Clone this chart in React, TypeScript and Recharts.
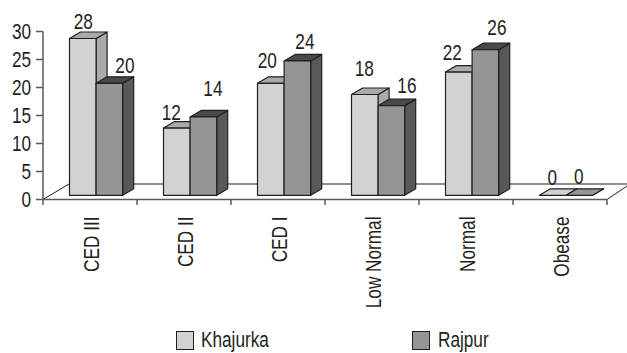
import { Bar, BarChart, Customized, LabelList, XAxis, YAxis } from 'recharts';

const categories = ['CED III', 'CED II', 'CED I', 'Low Normal', 'Normal', 'Obease'];
const khajurka = [28, 12, 20, 18, 22, 0];
const rajpur = [20, 14, 24, 16, 26, 0];
const yTicks = [0, 5, 10, 15, 20, 25, 30];
const seriesNames = ['Khajurka', 'Rajpur'];

// hand placement of the value labels, relative to the top of each bar
const khajurkaLabelNudge = [[7, -21], [1, -20], [3, -27], [6, -30], [0, -24], [6, -22]];
const rajpurLabelNudge = [[22, -22], [16, -33], [14, -24], [22, -24], [18, -26], [6, -23]];

const WIDTH = 627;
const HEIGHT = 353;
const PLOT_LEFT = 43;
const PLOT_RIGHT = 607;
const PLOT_TOP = 31.5;
const PLOT_BOTTOM = 199.5;
const BAND = (PLOT_RIGHT - PLOT_LEFT) / categories.length;
const BAR_WIDTH = 26.6;

// the boxes stand a little inside the floor, and are extruded up and to the right
const FLOOR_SHIFT_X = 6.5;
const FLOOR_SHIFT_Y = -4.2;
const DEPTH_X = 11;
const DEPTH_Y = 6.5;
const FLOOR_BACK_Y = 184;

const INK = '#231f20';
const AXIS = '#58595b';
// condensed look: no narrow face is installed, so the sans is squeezed along its baseline
const FONT = '"Liberation Sans", sans-serif';
const FONT_SIZE = 21.5;
const SQUEEZE = 0.8;

const palette = {
  Khajurka: { front: '#d1d2d4', top: '#a9aaac', side: '#a9aaac' },
  Rajpur: { front: '#939598', top: '#48494b', side: '#58595b' },
};

const chartData = categories.map((category, i) => ({
  category,
  Khajurka: khajurka[i],
  Rajpur: rajpur[i],
}));

function Floor() {
  return (
    <g fill="none" stroke={INK} strokeWidth={1}>
      <polyline points={`${PLOT_LEFT},${PLOT_BOTTOM} 69,${FLOOR_BACK_Y} ${WIDTH},${FLOOR_BACK_Y}`} />
      <line x1={PLOT_RIGHT} y1={PLOT_BOTTOM} x2={WIDTH} y2={FLOOR_BACK_Y + 2} />
    </g>
  );
}

function box(colors: { front: string; top: string; side: string }) {
  return (props: any) => {
    const x = props.x + FLOOR_SHIFT_X;
    const y = props.y + FLOOR_SHIFT_Y;
    const { width, height } = props;
    const right = x + width;
    const bottom = y + height;
    const flat = height < 1;
    return (
      <g stroke={INK} strokeWidth={1.2} strokeLinejoin="round">
        <polygon
          points={`${right},${y} ${right + DEPTH_X},${y - DEPTH_Y} ${right + DEPTH_X},${bottom - DEPTH_Y} ${right},${bottom}`}
          fill={colors.side}
        />
        <polygon
          points={`${x},${y} ${x + DEPTH_X},${y - DEPTH_Y} ${right + DEPTH_X},${y - DEPTH_Y} ${right},${y}`}
          fill={flat ? colors.front : colors.top}
        />
        <rect x={x} y={y} width={width} height={height} fill={colors.front} />
      </g>
    );
  };
}

function valueLabel(nudges: number[][]) {
  return (props: any) => {
    const { x, y, width, value, index } = props;
    const [dx, dy] = nudges[index];
    return (
      <text
        transform={`translate(${x + width / 2 + dx},${y + dy + 7.5}) scale(${SQUEEZE},1)`}
        textAnchor="middle"
        fontFamily={FONT}
        fontSize={FONT_SIZE}
        fill={INK}
      >
        {value}
      </text>
    );
  };
}

function CategoryTick(props: any) {
  const { x, payload, index } = props;
  const left = x - BAND / 2;
  const right = x + BAND / 2;
  return (
    <g>
      <line x1={left} y1={PLOT_BOTTOM} x2={left} y2={PLOT_BOTTOM + 5.5} stroke={AXIS} strokeWidth={1.5} />
      {index === categories.length - 1 && (
        <line x1={right} y1={PLOT_BOTTOM} x2={right} y2={PLOT_BOTTOM + 5.5} stroke={AXIS} strokeWidth={1.5} />
      )}
      <text
        transform={`translate(${x + 9},216.5) rotate(-90) scale(${SQUEEZE},1)`}
        textAnchor="end"
        fontFamily={FONT}
        fontSize={FONT_SIZE}
        fill={INK}
      >
        {payload.value}
      </text>
    </g>
  );
}

function ValueTick(props: any) {
  const { x, y, payload } = props;
  return (
    <text
      transform={`translate(${x},${y + 7.5}) scale(${SQUEEZE},1)`}
      textAnchor="end"
      fontFamily={FONT}
      fontSize={FONT_SIZE}
      fill={INK}
    >
      {payload.value}
    </text>
  );
}

const legendSwatchLefts = [175.5, 412];
const legendTextLefts = [201, 438];

export default function App() {
  return (
    <div style={{ position: 'absolute', left: 0, top: 0, width: WIDTH, height: HEIGHT, background: '#fff', overflow: 'hidden' }}>
      <BarChart
        width={WIDTH}
        height={HEIGHT}
        data={chartData}
        margin={{ top: PLOT_TOP, right: WIDTH - PLOT_RIGHT, bottom: 0, left: 0 }}
        barSize={BAR_WIDTH}
        barGap={0}
      >
        <Customized component={Floor} />
        <XAxis
          dataKey="category"
          height={HEIGHT - PLOT_BOTTOM}
          interval={0}
          tickLine={false}
          axisLine={{ stroke: AXIS, strokeWidth: 1.5 }}
          tick={CategoryTick}
        />
        <YAxis
          width={PLOT_LEFT}
          domain={[0, 30]}
          ticks={yTicks}
          interval={0}
          tickSize={7}
          tickMargin={5}
          tickLine={{ stroke: AXIS, strokeWidth: 1.5 }}
          axisLine={{ stroke: AXIS, strokeWidth: 1.5 }}
          tick={ValueTick}
        />
        <Bar dataKey="Khajurka" isAnimationActive={false} shape={box(palette.Khajurka)}>
          <LabelList dataKey="Khajurka" content={valueLabel(khajurkaLabelNudge)} />
        </Bar>
        <Bar dataKey="Rajpur" isAnimationActive={false} shape={box(palette.Rajpur)}>
          <LabelList dataKey="Rajpur" content={valueLabel(rajpurLabelNudge)} />
        </Bar>
      </BarChart>
      {seriesNames.map((name, i) => (
        <div key={name}>
          <span
            style={{
              position: 'absolute',
              left: legendSwatchLefts[i],
              top: 331,
              boxSizing: 'border-box',
              width: 18,
              height: 18.5,
              border: `1.2px solid ${INK}`,
              background: palette[name as keyof typeof palette].front,
            }}
          />
          <span
            style={{
              position: 'absolute',
              left: legendTextLefts[i],
              top: 328,
              fontFamily: FONT,
              fontSize: FONT_SIZE,
              lineHeight: '25px',
              color: INK,
              transform: `scaleX(${SQUEEZE})`,
              transformOrigin: 'left',
              whiteSpace: 'nowrap',
            }}
          >
            {name}
          </span>
        </div>
      ))}
    </div>
  );
}
